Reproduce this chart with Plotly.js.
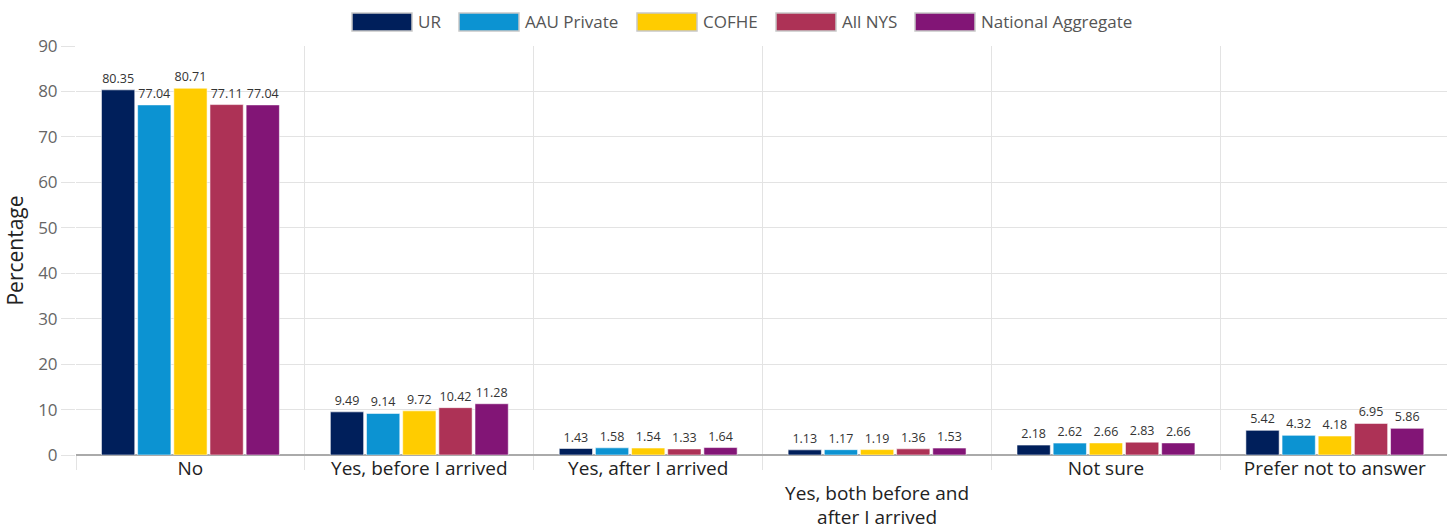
<!DOCTYPE html>
<html>
<head>
<meta charset="utf-8">
<script src="https://cdn.plot.ly/plotly-3.0.1.min.js"></script>
<style>
  html, body { margin: 0; padding: 0; background: #fff; }
  #chart { width: 1452px; height: 529px; }
</style>
</head>
<body>
<div id="chart"></div>
<script>
// Response categories (x axis)
const categories = [
  "No",
  "Yes, before I arrived",
  "Yes, after I arrived",
  "Yes, both before and<br>after I arrived",
  "Not sure",
  "Prefer not to answer"
];

// Comparison groups
const seriesNames = ["UR", "AAU Private", "COFHE", "All NYS", "National Aggregate"];
const seriesColors = ["#001f5b", "#0c93d2", "#ffcc00", "#ad3256", "#821576"];

// Percentages per group, in category order
const urValues       = [80.35, 9.49, 1.43, 1.13, 2.18, 5.42];
const aauValues      = [77.04, 9.14, 1.58, 1.17, 2.62, 4.32];
const cofheValues    = [80.71, 9.72, 1.54, 1.19, 2.66, 4.18];
const allNysValues   = [77.11, 10.42, 1.33, 1.36, 2.83, 6.95];
const nationalValues = [77.04, 11.28, 1.64, 1.53, 2.66, 5.86];

const seriesValues = [urValues, aauValues, cofheValues, allNysValues, nationalValues];

const fontFamily = "'Open Sans', Lato, sans-serif";

// Wrapped labels start one line lower than single-line ones
const tickText = categories.map(c => c.includes("<br>") ? "&nbsp;<br>" + c : c);

const traces = seriesNames.map((name, i) => ({
  type: "bar",
  name: name,
  x: categories,
  y: seriesValues[i],
  text: seriesValues[i].map(v => v.toFixed(2)),
  textposition: "outside",
  cliponaxis: false,
  textfont: { family: fontFamily, size: 12.5, color: "#333" },
  marker: {
    color: seriesColors[i],
    line: { color: "rgba(255,255,255,0.55)", width: 1 }
  },
  showlegend: false,
  hoverinfo: "x+y+name"
}));

// Custom legend row across the top: wide swatches with a grey outline
const legendSwatchX = [352, 459, 637, 776, 915];
const swatchW = 60, swatchH = 18, legendY = 22;
const shapes = [];
const annotations = [];
seriesNames.forEach((name, i) => {
  const x0 = legendSwatchX[i];
  shapes.push({
    type: "rect", xref: "paper", yref: "paper", layer: "above",
    x0: (x0 - 76) / 1371, x1: (x0 + swatchW - 76) / 1371,
    y0: (455 - (legendY + swatchH / 2)) / 409, y1: (455 - (legendY - swatchH / 2)) / 409,
    fillcolor: seriesColors[i],
    line: { color: "#c8c8c8", width: 1.5 }
  });
  annotations.push({
    xref: "paper", yref: "paper",
    x: (x0 + swatchW + 4 - 76) / 1371, y: (455 - legendY) / 409,
    xanchor: "left", yanchor: "middle",
    text: name, showarrow: false,
    font: { family: fontFamily, size: 17, color: "#555" }
  });
});

const layout = {
  width: 1452,
  height: 529,
  margin: { l: 76, r: 5, t: 46, b: 74 },
  paper_bgcolor: "#fff",
  plot_bgcolor: "#fff",
  barmode: "group",
  bargap: 0.21,
  bargroupgap: 0.08,
  showlegend: false,
  font: { family: fontFamily, color: "#333" },
  xaxis: {
    type: "category",
    range: [-0.5, 5.49],
    tickson: "boundaries",
    ticks: "outside",
    ticklen: 14,
    tickcolor: "#e3e3e3",
    tickwidth: 1,
    tickvals: categories,
    ticktext: tickText,
    showgrid: true,
    gridcolor: "#e3e3e3",
    gridwidth: 1,
    showline: false,
    zeroline: false,
    tickfont: { family: fontFamily, size: 19, color: "#222" }
  },
  yaxis: {
    range: [0, 90],
    dtick: 10,
    ticks: "outside",
    ticklen: 14,
    tickcolor: "#e3e3e3",
    showgrid: true,
    gridcolor: "#e3e3e3",
    zeroline: true,
    zerolinecolor: "#aaaaaa",
    zerolinewidth: 1.5,
    tickfont: { family: fontFamily, size: 17, color: "#666" },
    title: {
      text: "Percentage",
      font: { family: fontFamily, size: 21, color: "#222" },
      standoff: 8
    }
  },
  shapes: shapes,
  annotations: annotations
};

Plotly.newPlot("chart", traces, layout, { displayModeBar: false, responsive: false });
</script>
</body>
</html>
